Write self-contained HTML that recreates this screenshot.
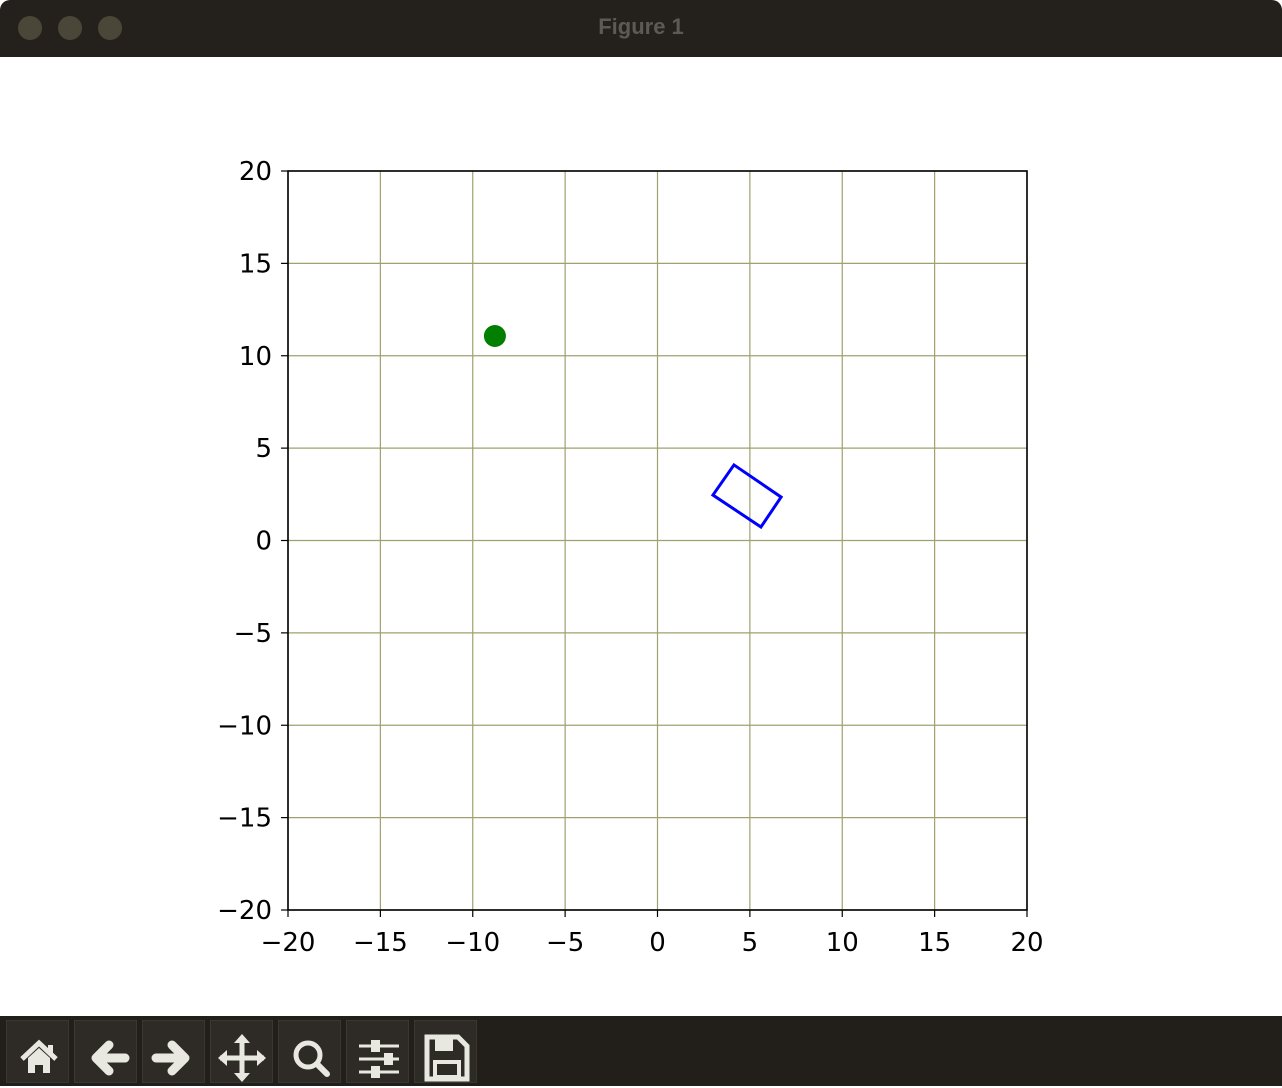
<!DOCTYPE html>
<html><head><meta charset="utf-8"><style>
body{margin:0;width:1282px;height:1086px;overflow:hidden;background:#fff;font-family:"DejaVu Sans","Liberation Sans",sans-serif;position:relative}
#titlebar{position:absolute;left:0;top:0;width:1282px;height:57px;background:#24211c;border-radius:10px 10px 0 0}
.dot{position:absolute;top:16px;width:24px;height:24px;border-radius:50%;background:#4a4738}
#title{position:absolute;top:14px;left:0;width:1282px;text-align:center;color:#5c5a55;font-weight:bold;font-size:22px;font-family:"Liberation Sans",sans-serif}
#toolbar{position:absolute;left:0;top:1016px;width:1282px;height:70px;background:#221f1a}
.btn{position:absolute;top:4px;width:63px;height:63px;background:#2e2b26;border:1px solid #3a3730;box-sizing:border-box}
.btn svg{width:63px;height:63px}
</style></head><body>
<div id="titlebar">
<div class="dot" style="left:18px"></div>
<div class="dot" style="left:58px"></div>
<div class="dot" style="left:98px"></div>
<div id="title">Figure 1</div>
</div>
<svg id="chart" width="1282" height="959" style="position:absolute;left:0;top:57px">
<g id="g" transform="translate(0,-57)"></g>
</svg>
<div id="toolbar">
<div class="btn" style="left:6px"><svg viewBox="0 0 63 63"><path d="M15 38 L32 22 L49 38" stroke="#e8e8e0" stroke-width="5" fill="none"/><path d="M21 37 L32 27 L43 37 V52 H36 V44 H28 V52 H21Z" fill="#e8e8e0"/><rect x="41" y="24" width="5" height="9" fill="#e8e8e0"/></svg></div>
<div class="btn" style="left:74px"><svg viewBox="0 0 63 63"><path d="M50 37 H24 M34 24 L21 37 L34 50" stroke="#e8e8e0" stroke-width="9" fill="none" stroke-linecap="round" stroke-linejoin="round"/></svg></div>
<div class="btn" style="left:142px"><svg viewBox="0 0 63 63"><path d="M13 37 H39 M29 24 L42 37 L29 50" stroke="#e8e8e0" stroke-width="9" fill="none" stroke-linecap="round" stroke-linejoin="round"/></svg></div>
<div class="btn" style="left:210px"><svg viewBox="0 0 63 63"><path d="M31 16 V58 M9 37 H53" stroke="#e8e8e0" stroke-width="5"/><path d="M31 13 L23 22 H39Z M31 61 L23 52 H39Z M7 37 L16 29 V45Z M55 37 L46 29 V45Z" fill="#e8e8e0"/></svg></div>
<div class="btn" style="left:278px"><svg viewBox="0 0 63 63"><circle cx="29" cy="34" r="12" stroke="#e8e8e0" stroke-width="5" fill="none"/><path d="M38 43 L48 53" stroke="#e8e8e0" stroke-width="6" stroke-linecap="round"/></svg></div>
<div class="btn" style="left:346px"><svg viewBox="0 0 63 63"><path d="M12 25 H52 M12 38 H52 M12 51 H52" stroke="#e8e8e0" stroke-width="3"/><rect x="24" y="19" width="9" height="12" fill="#e8e8e0"/><rect x="37" y="32" width="9" height="12" fill="#e8e8e0"/><rect x="24" y="45" width="9" height="12" fill="#e8e8e0"/></svg></div>
<div class="btn" style="left:414px"><svg viewBox="0 0 63 63"><path d="M12 16 H43 L52 25 V58 H12Z" stroke="#e8e8e0" stroke-width="5" fill="none"/><rect x="20" y="18" width="18" height="12" fill="#e8e8e0"/><rect x="20" y="41" width="24" height="15" stroke="#e8e8e0" stroke-width="4" fill="none"/></svg></div>
</div>
<script>
const xTicks=[-20,-15,-10,-5,0,5,10,15,20];
const yTicks=[-20,-15,-10,-5,0,5,10,15,20];
const pointX=[-8.8];
const pointY=[11.07];
const rectX=[4.14,6.69,5.6,3.0];
const rectY=[4.09,2.35,0.73,2.46];
const L=288,R=1027,T=171,B=910;
const sx=v=>L+(v+20)/40*(R-L);
const sy=v=>B-(v+20)/40*(B-T);
const g=document.getElementById('g');
const NS='http://www.w3.org/2000/svg';
function mk(t,a){const e=document.createElementNS(NS,t);for(const k in a)e.setAttribute(k,a[k]);g.appendChild(e);return e;}
const fmt=v=>v<0?'\u2212'+(-v):''+v;
xTicks.forEach(v=>{
 const l=mk('line',{x1:sx(v),x2:sx(v),y1:T,y2:B,stroke:'#a0a070','stroke-width':1.2});
 
 
 const t=mk('line',{x1:sx(v),x2:sx(v),y1:B,y2:B+7,stroke:'#000','stroke-width':1.2});
 
 
 const tx=mk('text',{x:sx(v),y:B+41,'text-anchor':'middle','font-size':'26px',fill:'#000'});
 tx.textContent=fmt(v);
 
 
});
yTicks.forEach(v=>{
 const l=mk('line',{x1:L,x2:R,y1:sy(v),y2:sy(v),stroke:'#a0a070','stroke-width':1.2});
 
 
 const t=mk('line',{x1:L-7,x2:L,y1:sy(v),y2:sy(v),stroke:'#000','stroke-width':1.2});
 
 
 const tx=mk('text',{x:L-16,y:sy(v)+9,'text-anchor':'end','font-size':'26px',fill:'#000'});
 tx.textContent=fmt(v);
 
 
});
const fr=mk('rect',{x:L,y:T,width:R-L,height:B-T,fill:'none',stroke:'#000','stroke-width':1.6});


pointX.forEach((v,i)=>{
 const c=mk('circle',{cx:sx(v),cy:sy(pointY[i]),r:11,fill:'#007f00'});
 
 
});
const pts=rectX.map((v,i)=>sx(v)+','+sy(rectY[i])).join(' ');
const p=mk('polygon',{points:pts,fill:'none',stroke:'#0000ff','stroke-width':3});


</script>
</body></html>
